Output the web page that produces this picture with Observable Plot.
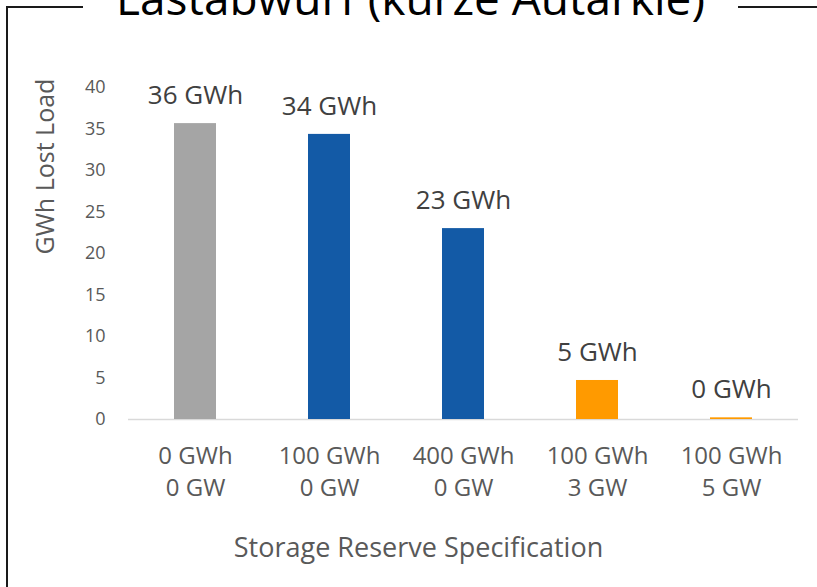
<!DOCTYPE html>
<html>
<head>
<meta charset="utf-8">
<script src="https://cdn.jsdelivr.net/npm/d3@7"></script>
<script src="https://cdn.jsdelivr.net/npm/@observablehq/plot@0.6"></script>
<style>
  html, body { margin: 0; padding: 0; background: #fff; }
  #wrap { position: relative; width: 817px; height: 587px; overflow: hidden; font-family: "Open Sans", sans-serif; }
  #wrap svg { position: absolute; left: 0; top: 0; overflow: visible; }
  .border { position: absolute; background: #1a1a1a; }
</style>
</head>
<body>
<div id="wrap">
  <div class="border" style="left:6px; top:6px; width:2px; height:600px;"></div>
  <div class="border" style="left:6px; top:6px; width:77px; height:2px;"></div>
  <div class="border" style="left:738px; top:6px; width:90px; height:2px;"></div>
</div>
<script>
const categories = ["0 GWh\n0 GW", "100 GWh\n0 GW", "400 GWh\n0 GW", "100 GWh\n3 GW", "100 GWh\n5 GW"];
const values = [35.65, 34.35, 23.0, 4.7, 0.2];
const valueLabels = ["36 GWh", "34 GWh", "23 GWh", "5 GWh", "0 GWh"];
const groups = ["Reference", "Energy", "Energy", "Power", "Power"];
const groupNames = ["Reference", "Energy", "Power"];
const groupColors = ["#A5A5A5", "#135AA6", "#FF9A00"];
const yTicks = [0, 5, 10, 15, 20, 25, 30, 35, 40];
const title = "Lastabwurf (kurze Autarkie)";
const xTitle = "Storage Reserve Specification";
const yTitle = "GWh Lost Load";

const data = categories.map((c, i) => ({cat: c, value: values[i], label: valueLabels[i], group: groups[i]}));

const chart = Plot.plot({
  width: 817,
  height: 587,
  marginTop: 87,
  marginBottom: 168,
  marginLeft: 128,
  marginRight: 19,
  style: {fontFamily: "'Open Sans', sans-serif", background: "transparent", overflow: "visible"},
  x: {domain: categories, paddingInner: 0.687, paddingOuter: 0.3435, align: 0.5, label: null},
  y: {domain: [0, 40], label: null},
  color: {domain: groupNames, range: groupColors},
  marks: [
    Plot.ruleY([0], {stroke: "#D9D9D9", strokeWidth: 1.5}),
    Plot.barY(data, {x: "cat", y: "value", fill: "group"}),
    Plot.text(data, {x: "cat", y: "value", text: "label", dy: -28, fontSize: 26, fill: "#404040"}),
    Plot.axisY({ticks: yTicks, tickSize: 0, tickPadding: 23, fontSize: 18, fill: "#595959", label: null}),
    Plot.axisX({tickSize: 0, tickPadding: 22, fontSize: 24, lineHeight: 1.333, fill: "#595959", label: null}),
    Plot.text([xTitle], {frameAnchor: "bottom", textAnchor: "middle", lineAnchor: "middle", dx: -45, dy: 129, fontSize: 27, fill: "#595959"}),
    Plot.text([yTitle], {frameAnchor: "left", textAnchor: "middle", lineAnchor: "middle", rotate: -90, dx: -83, dy: -87, fontSize: 25, fill: "#595959"}),
    Plot.text([title], {frameAnchor: "top", textAnchor: "middle", lineAnchor: "middle", dx: -53, dy: -87, fontSize: 46, fill: "#000"})
  ]
});
document.getElementById("wrap").appendChild(chart);
</script>
</body>
</html>
